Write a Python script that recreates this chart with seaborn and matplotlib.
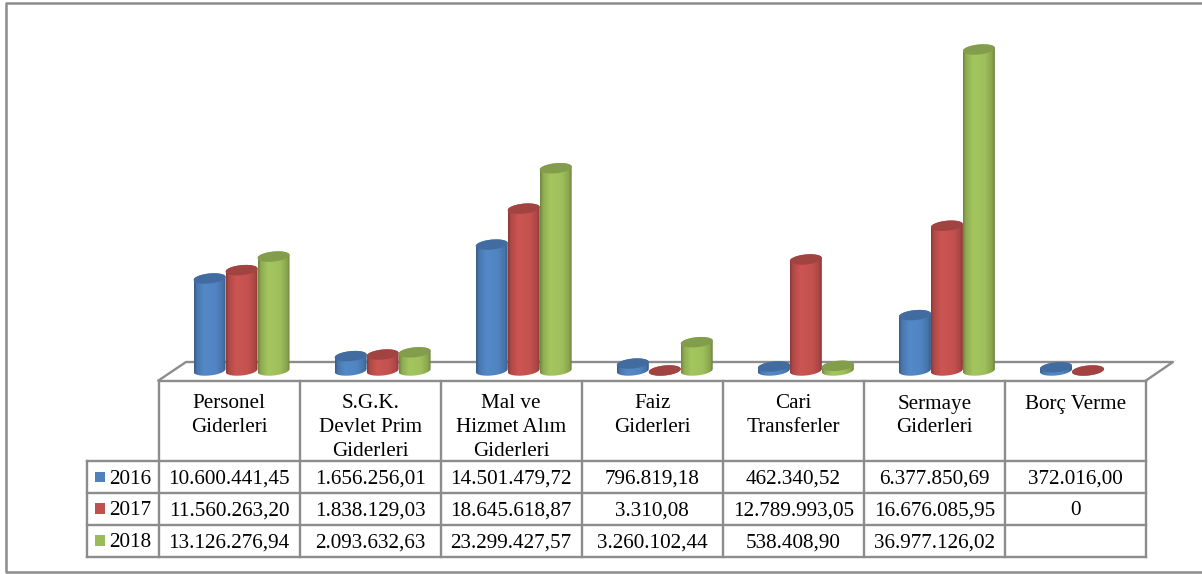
import numpy as np
import pandas as pd
import matplotlib
matplotlib.use("Agg")
import matplotlib.pyplot as plt
from matplotlib.colors import to_rgb, LinearSegmentedColormap
from matplotlib.patches import Polygon
import seaborn as sns

categories = ["Personel\nGiderleri", "S.G.K.\nDevlet Prim\nGiderleri",
              "Mal ve\nHizmet Alım\nGiderleri", "Faiz\nGiderleri",
              "Cari\nTransferler", "Sermaye\nGiderleri", "Borç Verme"]
years = ["2016", "2017", "2018"]
values_2016 = [10600441.45, 1656256.01, 14501479.72, 796819.18, 462340.52, 6377850.69, 372016.00]
values_2017 = [11560263.20, 1838129.03, 18645618.87, 3310.08, 12789993.05, 16676085.95, 0]
values_2018 = [13126276.94, 2093632.63, 23299427.57, 3260102.44, 538408.90, 36977126.02, np.nan]
labels_2016 = ["10.600.441,45", "1.656.256,01", "14.501.479,72", "796.819,18", "462.340,52", "6.377.850,69", "372.016,00"]
labels_2017 = ["11.560.263,20", "1.838.129,03", "18.645.618,87", "3.310,08", "12.789.993,05", "16.676.085,95", "0"]
labels_2018 = ["13.126.276,94", "2.093.632,63", "23.299.427,57", "3.260.102,44", "538.408,90", "36.977.126,02", ""]
colors = ["#4F81BD", "#C0504D", "#9BBB59"]

W, H = 1202, 574
GRID = "#8c8c8c"
plt.rcParams["font.family"] = ["Liberation Serif", "DejaVu Serif"]
fig = plt.figure(figsize=(W / 100, H / 100), dpi=100, facecolor="white")

# Page-space layer holding the frame, the floor and the data table
page = fig.add_axes([0, 0, 1, 1], zorder=1)
page.set_xlim(0, W)
page.set_ylim(H, 0)
page.axis("off")


def seg(xs, ys, lw=1.7):
    page.plot(xs, ys, color=GRID, lw=lw, solid_capstyle="projecting", clip_on=False)


seg([1202, 6, 6, 1202], [3, 3, 572, 572], lw=1.8)

left, right = 158.5, 1146
col_w = (right - left) / len(categories)
top, head, r1, r2, r3 = 380.5, 461, 493, 524.5, 557
legend_left = 87

# Floor of the plot
seg([left, 186, 1173, right], [top, 362, 362, top])

# Table grid
seg([left, right], [top, top])
seg([legend_left, right], [head, head])
seg([legend_left, right], [r1, r1])
seg([legend_left, right], [r2, r2])
seg([legend_left, right], [r3, r3])
seg([legend_left, legend_left], [head, r3])
for i in range(len(categories) + 1):
    seg([left + i * col_w] * 2, [top, r3])

FS = 15.2
for i, name in enumerate(categories):
    cx = left + (i + 0.5) * col_w
    for j, line in enumerate(name.split("\n")):
        page.text(cx, 404 + j * 23.5, line, ha="center", va="center", fontsize=FS, color="black")

row_rows = [(head, r1), (r1, r2), (r2, r3)]
for (y0, y1), year, labels, color in zip(row_rows, years, [labels_2016, labels_2017, labels_2018], colors):
    yc = (y0 + y1) / 2
    page.add_patch(plt.Rectangle((94.5, yc - 5.5), 10.5, 10.5, color=color, lw=0))
    page.text(109, yc + 2, year, ha="left", va="center", fontsize=FS, color="black")
    for i, label in enumerate(labels):
        page.text(left + (i + 0.5) * col_w, yc + 2, label, ha="center", va="center", fontsize=FS, color="black")

# Bars: the plot area sits slightly right of the table because of the floor's perspective
plot_left, plot_right = left + 12.5, right + 12.5
base_px, top_px = 370.5, 10
floor_px = 12  # room below the zero line for the rounded cylinder bases
y_per_px = 41.7e6 / 362
ymin, ymax = -floor_px * y_per_px, (base_px - top_px) * y_per_px
ax = fig.add_axes([plot_left / W, 1 - (base_px + floor_px) / H, (plot_right - plot_left) / W,
                   (base_px + floor_px - top_px) / H], zorder=2)
ax.patch.set_alpha(0)

df = pd.DataFrame({
    "kalem": categories * 3,
    "yil": np.repeat(years, len(categories)),
    "tutar": values_2016 + values_2017 + values_2018,
})
sns.barplot(data=df, x="kalem", y="tutar", hue="yil", palette=colors, order=categories,
            hue_order=years, width=0.68, gap=0, dodge=True, saturation=1, legend=False,
            errorbar=None, ax=ax)

ax.axis("off")

cap_half_h = 5.0 * y_per_px
cap_tilt = 1.5 * y_per_px
theta = np.linspace(0, 2 * np.pi, 73)


def shade(rgb, f):
    return tuple(min(1, c * f) for c in rgb)


for container, color in zip(ax.containers, colors):
    rgb = to_rgb(color)
    cmap = LinearSegmentedColormap.from_list("cyl", [
        (0.00, shade(rgb, 0.72)), (0.09, shade(rgb, 0.92)), (0.32, shade(rgb, 1.06)),
        (0.70, shade(rgb, 1.02)), (0.92, shade(rgb, 0.88)), (1.00, shade(rgb, 0.68))])
    for bar in container:
        h = bar.get_height()
        if not np.isfinite(h):
            continue
        x0, w = bar.get_x(), bar.get_width()
        xc = x0 + w / 2
        bx = xc + w / 2 * np.cos(theta)

        def ring(level):
            return level + cap_half_h * np.sin(theta) + cap_tilt * np.cos(theta)

        lower = theta >= np.pi
        upper = theta <= np.pi
        # Body outline: lower half of the base ellipse plus the upper half of the top ellipse
        outline = np.vstack([
            np.column_stack([bx[lower], ring(0)[lower]]),
            np.column_stack([bx[upper], ring(h)[upper]]),
        ])
        clip = Polygon(outline, closed=True, transform=ax.transData, fc="none", ec="none")
        ax.add_patch(clip)
        grad = ax.imshow(np.linspace(0, 1, 64)[None, :], cmap=cmap, aspect="auto", vmin=0, vmax=1,
                         extent=(x0, x0 + w, -2 * cap_half_h, h + 2 * cap_half_h),
                         zorder=3, interpolation="bilinear")
        grad.set_clip_path(clip)
        ax.add_patch(Polygon(np.column_stack([bx, ring(h)]), closed=True,
                             fc=shade(rgb, 0.84), ec="none", zorder=4, clip_on=False))
        bar.set_visible(False)

ax.set_xlim(-0.5, len(categories) - 0.5)
ax.set_ylim(ymin, ymax)
fig.savefig("out.png", dpi=100, facecolor="white")
